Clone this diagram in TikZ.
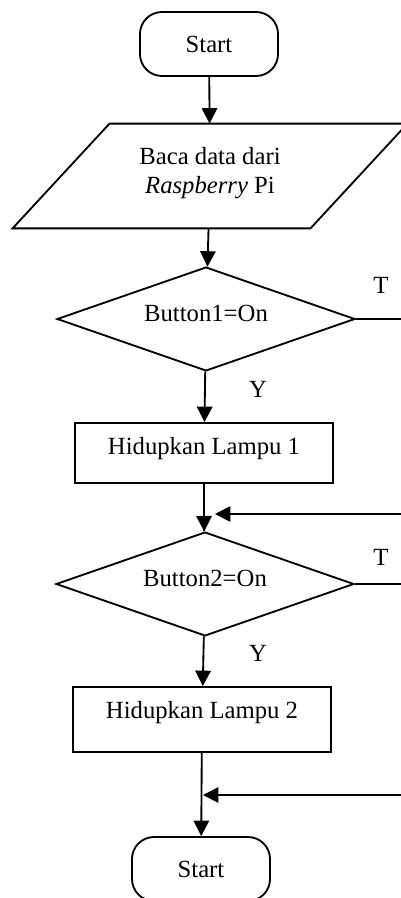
\documentclass[tikz,border=0pt]{standalone}
\usepackage{fontspec}
\setmainfont{Liberation Serif}
\usetikzlibrary{shapes.geometric, arrows.meta}

\begin{document}
\begin{tikzpicture}[x=0.486pt, y=-0.486pt,
        font=\fontsize{12}{14}\selectfont,
        garis/.style={line width=0.9pt},
        panah/.style={garis, -{Triangle[length=7.5pt, width=7.5pt]}},
        terminal/.style={draw, garis, rounded corners=10.7pt, minimum width=67.1pt, minimum height=31.1pt, inner sep=0pt},
        masukan/.style={minimum width=191.5pt, minimum height=50.5pt, inner sep=0pt, align=center},
        keputusan/.style={draw, garis, diamond, aspect=2.87, minimum width=144.8pt, minimum height=50.5pt, inner sep=0pt, text depth=5.2pt},
        proses/.style={draw, garis, minimum width=125.4pt, inner sep=0pt, text height=8.2pt}]

        % Bildausschnitt (rechts und unten abgeschnitten)
        \useasboundingbox (0,0) rectangle (401,898);
        \clip (0,0) rectangle (401,898);

        % Knoten
        \node[terminal] (mulai) at (209,44) {Start};
        \node[masukan, text height=19.8pt] (baca) at (210,176) {Baca data dari\\\textit{Raspberry} Pi};
        \node[keputusan] (tombol1) at (206,319) {Button1=On};
        \node[proses, minimum height=29.2pt, text depth=7.2pt] (lampu1) at (204,453) {Hidupkan Lampu 1};
        \node[keputusan] (tombol2) at (205,584) {Button2=On};
        \node[proses, minimum height=31.6pt, text depth=9.6pt] (lampu2) at (202,719.5) {Hidupkan Lampu 2};
        \node[terminal] (selesai) at (201,869) {Start};

        % Jajargenjang um den Eingabeknoten
        \draw[garis] ([xshift=47.1pt]baca.north west) -- (baca.north east)
            -- ([xshift=-47.1pt]baca.south east) -- (baca.south west) -- cycle;

        % Zusammenführungen
        \coordinate (gabung1) at (215,514);
        \coordinate (gabung2) at (203,795);

        % Pfeile
        \draw[panah] (mulai) -- (baca);
        \draw[panah] (baca) -- (tombol1);
        \draw[panah] (tombol1) -- (lampu1);
        \draw[garis] (lampu1.south) -- (lampu1.south |- tombol2.north);
        \draw[panah] (lampu1.south |- gabung1) -- (tombol2);
        \draw[panah] (tombol2) -- (lampu2);
        \draw[panah] (lampu2) -- (selesai);

        % Zweige T (nach rechts aus dem Bild)
        \draw[panah] (tombol1.east) -- ++(80,0) |- (gabung1);
        \draw[panah] (tombol2.east) -- ++(80,0) |- (gabung2);

        % Beschriftungen
        \node (y1) at (258,389) {Y};
        \node (y2) at (258,653) {Y};
        \node (t1) at (381,285) {T};
        \node (t2) at (381,557) {T};
    \end{tikzpicture}
\end{document}
